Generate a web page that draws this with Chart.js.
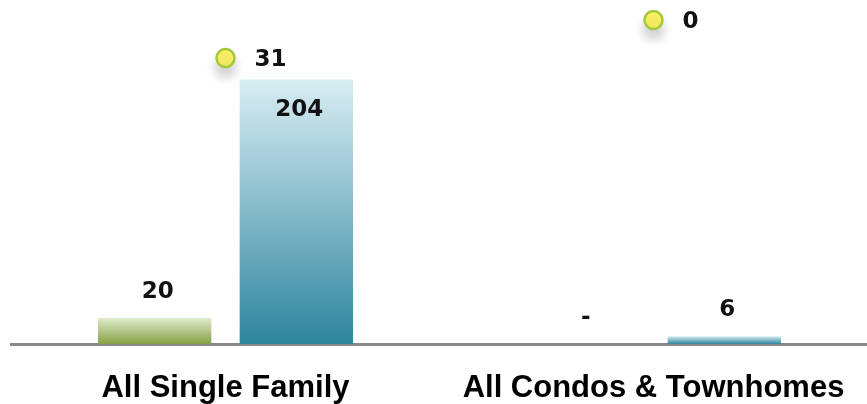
<!DOCTYPE html>
<html>
<head>
<meta charset="utf-8">
<script src="https://cdn.jsdelivr.net/npm/chart.js@4.4.1/dist/chart.umd.min.js"></script>
<style>
    html, body { margin: 0; padding: 0; background: #fff; overflow: hidden; }
    #wrap { width: 879px; height: 404px; }
</style>
</head>
<body>
<div id="wrap"><canvas id="salesChart"></canvas></div>
<script>
const categories = ['All Single Family', 'All Condos & Townhomes'];
const greenValues = [20, 0];
const blueValues = [204, 6];
const pointValues = [31, 0];

const barMax = 250;
const pointMax = 265;

function barGradient(c, top, bottom) {
    const chart = c.chart;
    const y = chart.scales.y;
    if (!y || c.raw === undefined) return bottom;
    const y0 = y.getPixelForValue(c.raw);
    const y1 = y.getPixelForValue(0);
    if (!isFinite(y0) || !isFinite(y1) || y1 - y0 < 1) return bottom;
    const g = chart.ctx.createLinearGradient(0, y0, 0, y1);
    g.addColorStop(0, top);
    g.addColorStop(1, bottom);
    return g;
}

// soft shadow under the yellow markers
const pointShadow = {
    id: 'pointShadow',
    beforeDatasetDraw(chart, args) {
        if (args.meta.type !== 'line') return;
        const ctx = chart.ctx;
        ctx.save();
        ctx.shadowColor = 'rgba(0,0,0,0.2)';
        ctx.shadowBlur = 12;
        ctx.shadowOffsetY = 9;
    },
    afterDatasetDraw(chart, args) {
        if (args.meta.type !== 'line') return;
        chart.ctx.restore();
    }
};

const valueLabels = {
    id: 'valueLabels',
    afterDatasetsDraw(chart) {
        const ctx = chart.ctx;
        ctx.save();
        ctx.font = 'bold 23px "DejaVu Sans"';
        ctx.fillStyle = '#111';
        ctx.textBaseline = 'middle';
        chart.data.datasets.forEach((ds, i) => {
            const meta = chart.getDatasetMeta(i);
            meta.data.forEach((el, j) => {
                const v = ds.data[j];
                if (meta.type === 'line') {
                    ctx.textAlign = 'left';
                    ctx.fillText(String(v), el.x + 29, el.y + 2);
                } else {
                    ctx.textAlign = 'center';
                    const txt = v === 0 ? '-' : String(v);
                    const y = v / barMax > 0.8 ? el.y + 30 : el.y - 26;
                    ctx.fillText(txt, el.x + 3, y);
                }
            });
        });
        ctx.restore();
    }
};

new Chart('salesChart', {
    data: {
        labels: categories,
        datasets: [{
            type: 'line',
            label: 'Points',
            data: pointValues,
            yAxisID: 'y2',
            showLine: false,
            clip: false,
            pointRadius: 9,
            pointBorderWidth: 2.5,
            pointBackgroundColor: '#fdf266',
            pointBorderColor: '#a5c83a',
            order: 0
        }, {
            type: 'bar',
            label: 'Green',
            data: greenValues,
            backgroundColor: c => barGradient(c, '#e0eacb', '#86a044'),
            categoryPercentage: 0.662,
            barPercentage: 0.8,
            order: 1
        }, {
            type: 'bar',
            label: 'Blue',
            data: blueValues,
            backgroundColor: c => barGradient(c, '#d9edf3', '#2d849c'),
            categoryPercentage: 0.662,
            barPercentage: 0.8,
            order: 1
        }]
    },
    options: {
        responsive: true,
        maintainAspectRatio: false,
        animation: false,
        layout: { padding: { left: 3, right: 0, top: 20, bottom: 0 } },
        plugins: {
            legend: { display: false },
            tooltip: { enabled: false }
        },
        scales: {
            x: {
                grid: { display: false },
                border: { display: true, color: '#888', width: 3 },
                ticks: {
                    color: '#000',
                    padding: 21,
                    font: { family: '"Liberation Sans"', size: 31, weight: 'bold', lineHeight: 1 }
                },
                afterFit: s => { s.height = 60; }
            },
            y: {
                display: false,
                min: 0,
                max: barMax
            },
            y2: {
                display: false,
                reverse: true,
                min: 0,
                max: pointMax
            }
        }
    },
    plugins: [pointShadow, valueLabels]
});
</script>
</body>
</html>
